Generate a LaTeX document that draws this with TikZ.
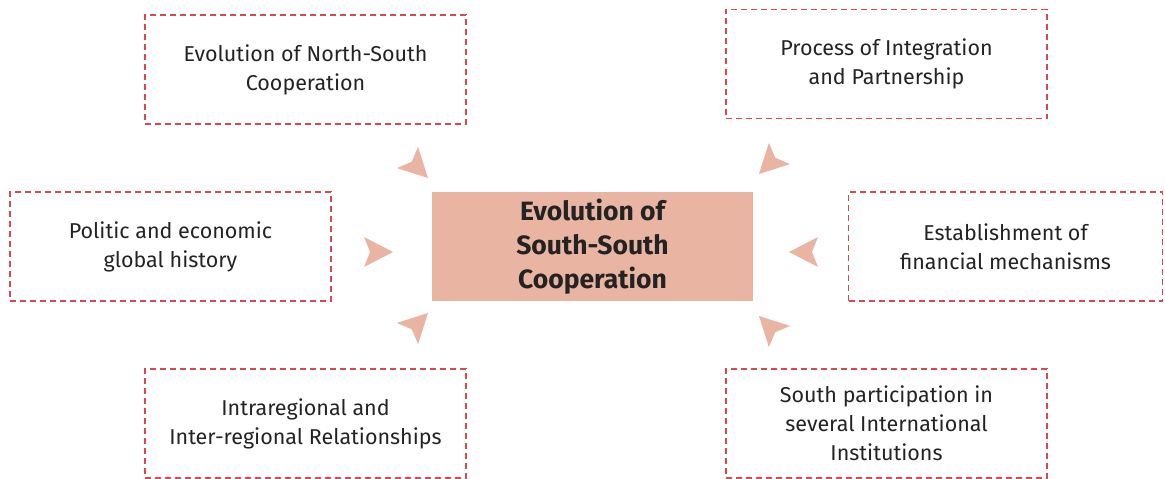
\documentclass[tikz,border=0pt]{standalone}
\usepackage{fontspec}
\setmainfont{Fira Sans}
\definecolor{dashred}{RGB}{214,72,82}
\definecolor{salmon}{RGB}{233,181,162}
\definecolor{txt}{RGB}{35,35,35}
\begin{document}
\begin{tikzpicture}[x=1pt,y=-1pt,
  outer/.style={draw=dashred, line width=1.2pt, dash pattern=on 6pt off 4pt,
    minimum width=321pt, minimum height=109pt, inner sep=0pt, align=center,
    text=txt, font=\fontsize{21.5}{29}\selectfont},
  center/.style={fill=salmon, minimum width=321pt, minimum height=109pt,
    inner sep=0pt, align=center, text=txt, font=\fontsize{26.5}{34}\selectfont\bfseries},
  tip/.style={fill=salmon}]
\useasboundingbox (0,0) rectangle (1165,479);
\node[center] (c) at (592.5,246.5) {Evolution of\\South-South\\Cooperation};
\node[outer] (tl) at (305.5,69.5) {Evolution of North-South\\Cooperation};
\node[outer] (tr) at (886.5,64) {Process of Integration\\and Partnership};
\node[outer] (ml) at (170.5,246.5) {Politic and economic\\global history};
\node[outer, minimum width=314pt] (mr) at (1005.5,246.5) {Establishment of\\financial mechanisms};
\node[outer] (bl) at (305.5,423.5) {Intraregional and\\Inter-regional Relationships};
\node[outer] (br) at (886.5,423.5) {South participation in\\several International\\Institutions};
\coordinate (t1) at (428,178);
\coordinate (t2) at (759,174);
\coordinate (t3) at (393,252);
\coordinate (t4) at (789,252);
\coordinate (t5) at (428,313);
\coordinate (t6) at (759,316);
\foreach \p/\a in {t1/-45,t2/-135,t3/0,t4/180,t5/45,t6/135}{
  \fill[tip, shift={(\p)}, rotate=\a] (0,0) -- (-29,15) -- (-23,0) -- (-29,-15) -- cycle;
}
\end{tikzpicture}
\end{document}
